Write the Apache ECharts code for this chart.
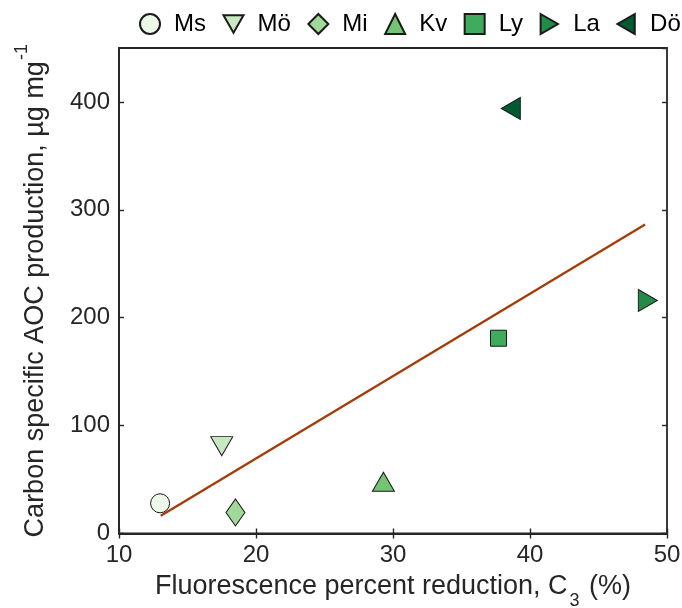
<!DOCTYPE html>
<html>
<head>
<meta charset="utf-8">
<script src="https://cdn.jsdelivr.net/npm/echarts@6/dist/echarts.min.js"></script>
<style>
html,body{margin:0;padding:0;background:#fff;}
#chart{width:682px;height:608px;}
</style>
</head>
<body>
<div id="chart"></div>
<script>
// ---- data ----
var siteNames = ['Ms', 'Mö', 'Mi', 'Kv', 'Ly', 'La', 'Dö'];
var reductionC3 = [13.0, 17.5, 18.5, 29.3, 37.7, 48.6, 38.6];   // x, %
var aocProduction = [28, 81, 19.5, 48, 181, 216, 394];          // y, µg mg-1
var fitX = [13.05, 48.4];
var fitY = [16.4, 286.4];
var xTicks = [10, 20, 30, 40, 50];
var yTicks = [0, 100, 200, 300, 400];

// ---- styling ----
var colors = ['#edf8e9', '#c7e9c0', '#a1d99b', '#74c476', '#41ab5d', '#238b45', '#005a32'];
var symbols = [
  'circle',
  'path://M0,0 L2,0 L1,1.73 Z',
  'diamond',
  'triangle',
  'rect',
  'path://M0,0 L1.73,1 L0,2 Z',
  'path://M1.73,0 L0,1 L1.73,2 Z'
];
var sizes = [19, [22, 19], [19, 27], [22, 19], 16, [19, 22], [19, 22]];
var FONT = 'Liberation Sans, Arial, sans-serif';
var AX = '#262626';

var series = siteNames.map(function (n, i) {
  return {
    name: n,
    type: 'scatter',
    symbol: symbols[i],
    symbolSize: sizes[i],
    data: [[reductionC3[i], aocProduction[i]]],
    itemStyle: { color: colors[i], borderColor: '#1a1a1a', borderWidth: 1, opacity: 1 },
    z: 3
  };
});
series.unshift({
  name: 'fit',
  type: 'line',
  data: fitX.map(function (x, i) { return [x, fitY[i]]; }),
  symbol: 'none',
  lineStyle: { color: '#a63a08', width: 2.3 },
  z: 2,
  silent: true
});

var chart = echarts.init(document.getElementById('chart'), null, { renderer: 'canvas' });
chart.setOption({
  animation: false,
  backgroundColor: '#ffffff',
  textStyle: { fontFamily: FONT },
  legend: {
    data: siteNames,
    top: 12,
    left: 139,
    width: 560,
    padding: 0,
    itemWidth: 20,
    itemHeight: 20,
    itemGap: 16.5,
    textStyle: { fontSize: 24, color: '#000', fontFamily: FONT, padding: [0, 0, 0, 9] }
  },
  grid: { left: 119, right: 15, top: 48, bottom: 74.5, show: true, borderColor: AX, borderWidth: 1.8, backgroundColor: 'transparent', outerBoundsMode: 'none', containLabel: false },
  xAxis: [{
    type: 'value', min: 10, max: 50, interval: 10,
    axisLine: { show: true, lineStyle: { color: AX, width: 1.8 } },
    axisTick: { show: true, inside: true, length: 5, lineStyle: { color: AX, width: 1.4 } },
    axisLabel: { fontSize: 24, color: AX, margin: 10, fontFamily: FONT },
    splitLine: { show: false },
    name: '{a|Fluorescence percent reduction, C}{sub|3}{a| (%)}',
    nameLocation: 'middle',
    nameGap: 37,
    nameTextStyle: {
      rich: {
        a: { fontSize: 27, color: AX, fontFamily: FONT, lineHeight: 32 },
        sub: { fontSize: 18, color: AX, fontFamily: FONT, lineHeight: 18, verticalAlign: 'bottom', padding: [0, 2, -8, 2] }
      }
    }
  }, {
    type: 'value', min: 10, max: 50, interval: 10, position: 'top',
    axisLine: { show: false },
    axisTick: { show: true, inside: true, length: 5, lineStyle: { color: AX, width: 1.4 } },
    axisLabel: { show: false },
    splitLine: { show: false }
  }],
  yAxis: [{
    type: 'value', min: 0, max: 450, interval: 100,
    axisLine: { show: true, lineStyle: { color: AX, width: 1.8 } },
    axisTick: { show: true, inside: true, length: 5, lineStyle: { color: AX, width: 1.4 } },
    axisLabel: { fontSize: 24, color: AX, margin: 9, fontFamily: FONT, showMaxLabel: false },
    splitLine: { show: false },
    name: '{a|Carbon specific AOC production, µg mg}{sup|-1}',
    nameLocation: 'middle',
    nameGap: 67,
    nameTextStyle: {
      rich: {
        a: { fontSize: 27, color: AX, fontFamily: FONT, lineHeight: 32 },
        sup: { fontSize: 18, color: AX, fontFamily: FONT, lineHeight: 18, verticalAlign: 'top', padding: [-7, 0, 0, 1] }
      }
    }
  }, {
    type: 'value', min: 0, max: 450, interval: 100, position: 'right',
    axisLine: { show: false },
    axisTick: { show: true, inside: true, length: 5, lineStyle: { color: AX, width: 1.4 } },
    axisLabel: { show: false },
    splitLine: { show: false }
  }],
  series: series
});
</script>
</body>
</html>
